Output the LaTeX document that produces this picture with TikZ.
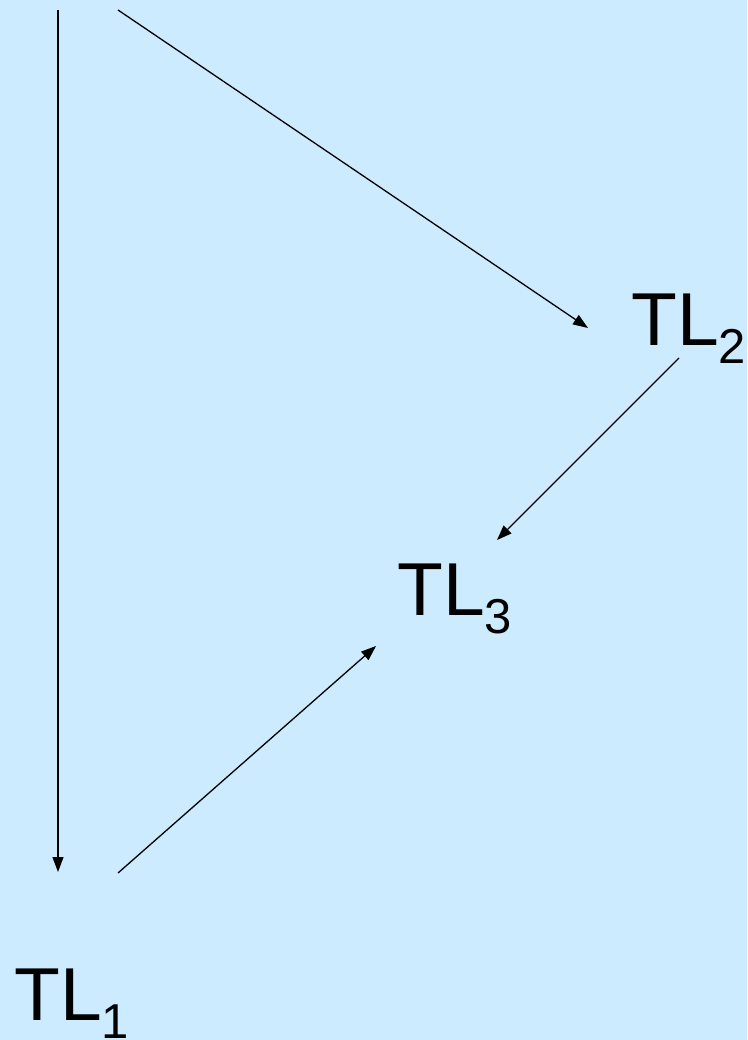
\documentclass[tikz,border=0pt]{standalone}
\usepackage{fontspec}
\setmainfont{Liberation Sans}
\usetikzlibrary{arrows.meta}
\definecolor{bgblue}{HTML}{CCEBFF}
\tikzset{
  lbl/.style={anchor=base west, inner sep=0pt, font=\fontsize{75}{75}\selectfont},
  conn/.style={line width=1.3pt, -{Triangle[length=15pt,width=11pt]}},
}
\newcommand{\tlsub}[1]{\raisebox{-18pt}{\fontsize{49}{49}\selectfont #1}}
\begin{document}
\begin{tikzpicture}[x=1pt,y=-1pt]
  \fill[bgblue] (0,0) rectangle (747,1040);
  \useasboundingbox (0,0) rectangle (747,1040);
  % labels
  \node[lbl] (tl2) at (631,345) {TL\tlsub{2}};
  \node[lbl] (tl3) at (397,615) {TL\tlsub{3}};
  \node[lbl] (tl1) at (14,1020) {TL\tlsub{1}};
  % connector end points
  \coordinate (s1) at (58,10);
  \coordinate (e1) at (58,872);
  \coordinate (s2) at (118,10);
  \coordinate (e2) at (588,328);
  \coordinate (s3) at (679,358);
  \coordinate (e3) at (497,540);
  \coordinate (s4) at (118,873);
  \coordinate (e4) at (376,646);
  % connectors
  \draw[conn] (s1) -- (e1);
  \draw[conn] (s2) -- (e2);
  \draw[conn] (s3) -- (e3);
  \draw[conn] (s4) -- (e4);
\end{tikzpicture}
\end{document}
